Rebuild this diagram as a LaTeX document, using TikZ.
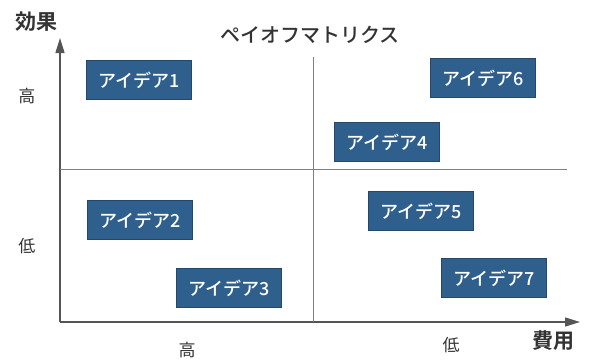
\documentclass[tikz,border=0pt]{standalone}
\usepackage{fontspec}
\setmainfont{Noto Sans CJK JP}
\newfontfamily\jpbold{Noto Sans CJK JP Bold}
\newfontfamily\jpmed{Noto Sans CJK JP Medium}
\usetikzlibrary{arrows.meta}
\definecolor{boxblue}{HTML}{2F5F8C}
\definecolor{boxedge}{HTML}{24486A}
\definecolor{axisgray}{HTML}{555555}
\definecolor{textgray}{HTML}{333333}
\tikzset{
  idea/.style={fill=boxblue, draw=boxedge, line width=0.8pt, text=white,
    minimum width=105pt, minimum height=39pt, inner sep=0pt,
    font=\jpmed\fontsize{18}{20}\selectfont},
  axis/.style={draw=axisgray, line width=1.5pt, -{Triangle[length=15pt,width=9pt]}},
  divider/.style={draw=gray, line width=0.8pt},
  lvl/.style={text=textgray, font=\fontsize{17}{19}\selectfont},
  axlabel/.style={text=textgray, font=\jpbold\fontsize{21}{23}\selectfont},
}
\begin{document}
\begin{tikzpicture}[x=1pt,y=-1pt]
\useasboundingbox (0,0) rectangle (590,360);
% axes
\coordinate (O) at (60,322);
\coordinate (ytip) at (60,38);
\coordinate (xtip) at (580,322);
\draw[axis] (O) -- (ytip);
\draw[axis] (O) -- (xtip);
% dividers
\coordinate (vtop) at (313,57);
\coordinate (vbot) at (313,322);
\coordinate (hl) at (60,169);
\coordinate (hr) at (567,169);
\draw[divider] (vtop) -- (vbot);
\draw[divider] (hl) -- (hr);
% labels
\node[axlabel] (eff) at (37,22) {効果};
\node[axlabel] (cost) at (553,341) {費用};
\node[text=textgray, font=\jpmed\fontsize{20}{22}\selectfont] (title) at (310,35) {ペイオフマトリクス};
\node[lvl] (yhi) at (27,96) {高};
\node[lvl] (ylo) at (27,246) {低};
\node[lvl] (xhi) at (187,350) {高};
\node[lvl] (xlo) at (451,345) {低};
% ideas
\node[idea] (i1) at (139,80) {アイデア1};
\node[idea] (i6) at (483,78) {アイデア6};
\node[idea] (i4) at (387,142) {アイデア4};
\node[idea] (i2) at (140,220) {アイデア2};
\node[idea] (i3) at (229,288) {アイデア3};
\node[idea] (i5) at (421,211) {アイデア5};
\node[idea] (i7) at (494,278) {アイデア7};
\end{tikzpicture}
\end{document}
